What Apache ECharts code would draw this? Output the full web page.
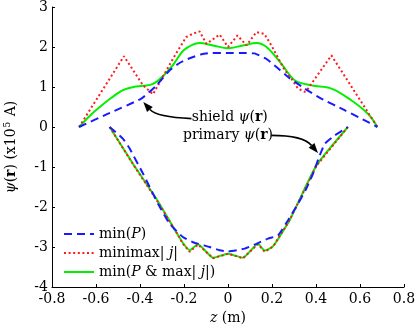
<!DOCTYPE html>
<html lang="en">
<head>
    <meta charset="UTF-8">
    <title>psi(r)</title>
    <script src="https://cdn.jsdelivr.net/npm/echarts@6/dist/echarts.min.js"></script>
    <style>
        body { margin: 0; background: #fff; }
    </style>
</head>
<body>
    <div id="main" style="width: 415px;height:329px;"></div>

    <script>
        // shield psi(r), upper curves: [z (m), psi (x1e5 A)]
        var shieldMinP = [[-0.677, 0], [-0.55, 0.32], [-0.394, 0.71], [-0.325, 1.04], [-0.265, 1.42], [-0.22, 1.6],
            [-0.174, 1.72], [-0.12, 1.82], [-0.08, 1.85], [0, 1.85], [0.08, 1.85], [0.121, 1.84], [0.175, 1.7],
            [0.22, 1.5], [0.273, 1.25], [0.349, 0.96], [0.424, 0.71], [0.53, 0.42], [0.606, 0.21], [0.679, 0]];
        var shieldMinimax = [[-0.677, 0], [-0.473, 1.77], [-0.386, 1.04], [-0.341, 0.82], [-0.25, 1.71], [-0.19, 2.25],
            [-0.16, 2.33], [-0.129, 2.39], [-0.098, 2.08], [-0.038, 2.31], [0, 2.0], [0.043, 2.29], [0.084, 2.04],
            [0.129, 2.37], [0.165, 2.33], [0.197, 2.04], [0.258, 1.42], [0.288, 1.21], [0.318, 0.96], [0.349, 0.88],
            [0.36, 0.93], [0.47, 1.79], [0.679, 0]];
        var shieldBoth = [[-0.677, 0], [-0.63, 0.27], [-0.583, 0.5], [-0.53, 0.73], [-0.477, 0.92], [-0.43, 1.0],
            [-0.386, 1.03], [-0.341, 1.08], [-0.3, 1.25], [-0.25, 1.55], [-0.205, 1.9], [-0.16, 2.06], [-0.129, 2.1],
            [-0.068, 2.04], [0, 1.97], [0.068, 2.04], [0.129, 2.1], [0.175, 2.0], [0.243, 1.58], [0.303, 1.17],
            [0.379, 1.04], [0.47, 0.96], [0.56, 0.67], [0.636, 0.33], [0.679, 0]];

        // primary psi(r), lower curves
        var primaryMinP = [[-0.538, 0], [-0.478, -0.29], [-0.447, -0.54], [-0.386, -1.17], [-0.356, -1.5], [-0.318, -1.92],
            [-0.265, -2.42], [-0.205, -2.75], [-0.159, -2.88], [-0.083, -3.0], [-0.038, -3.08], [0, -3.11],
            [0.076, -3.04], [0.129, -2.92], [0.182, -2.79], [0.227, -2.71], [0.273, -2.33], [0.318, -1.92],
            [0.356, -1.54], [0.386, -1.17], [0.417, -0.71], [0.44, -0.42], [0.485, -0.21], [0.523, -0.08], [0.545, 0]];
        var primaryMinimax = [[-0.538, 0], [-0.432, -0.93], [-0.325, -1.82], [-0.235, -2.63], [-0.205, -2.92],
            [-0.174, -3.12], [-0.136, -2.94], [-0.068, -3.28], [0, -3.17], [0.068, -3.28], [0.136, -2.93],
            [0.167, -3.12], [0.205, -2.99], [0.28, -2.33], [0.402, -0.97], [0.545, 0]];
        var primaryBoth = [[-0.538, 0], [-0.432, -0.92], [-0.325, -1.8], [-0.235, -2.63], [-0.205, -2.9],
            [-0.174, -3.08], [-0.136, -2.93], [-0.068, -3.27], [0, -3.17], [0.068, -3.27], [0.136, -2.92],
            [0.167, -3.09], [0.205, -2.98], [0.28, -2.33], [0.402, -0.96], [0.545, 0]];

        var names = ['min(P)', 'minimax|j|', 'min(P & max|j|)'];
        var legendText = {
            'min(P)': 'min({i|P})',
            'minimax|j|': 'minimax| {i|j}|',
            'min(P & max|j|)': 'min({i|P} & max| {i|j}|)'
        };
        var xTicks = { min: -0.8, max: 0.8, step: 0.2 };
        var yTicks = { min: -4, max: 3, step: 1 };

        var serif = 'DejaVu Serif';
        var colors = ['#1a1aff', '#ff1a1a', '#00f000'];

        var chart1 = echarts.init(document.getElementById('main'));

        function lineSeries(name, data, idx, upper) {
            var styles = [
                { type: [8, 5], width: 2 },
                { type: [2, 2.6], width: 2 },
                { type: 'solid', width: 2 }
            ];
            return {
                name: name,
                type: 'line',
                data: data,
                symbol: 'none',
                smooth: idx == 1 ? false : (idx == 2 && upper ? 0.35 : 0.15),
                z: [4, 3, 2][idx],
                lineStyle: Object.assign({ color: colors[idx] }, styles[idx]),
                itemStyle: { color: colors[idx] }
            };
        }

        var option = {
            animation: false,
            textStyle: { fontFamily: serif },
            grid: { left: 52, right: 11, top: 7, bottom: 42, containLabel: false, outerBoundsMode: 'none' },
            legend: {
                data: names,
                orient: 'vertical',
                left: 58,
                top: 222,
                itemWidth: 30,
                itemHeight: 10,
                itemGap: 5,
                itemStyle: { opacity: 0 },
                formatter: function (n) { return legendText[n]; },
                textStyle: {
                    fontFamily: serif, fontSize: 14, color: '#000',
                    rich: { i: { fontFamily: serif, fontSize: 14, fontStyle: 'italic', color: '#000' } }
                }
            },
            xAxis: {
                type: 'value',
                min: xTicks.min, max: xTicks.max, interval: xTicks.step,
                name: '{i|z} (m)',
                nameLocation: 'middle',
                nameGap: 13,
                nameTextStyle: {
                    fontFamily: serif, fontSize: 14, color: '#000',
                    rich: { i: { fontFamily: serif, fontSize: 14, fontStyle: 'italic', color: '#000' } }
                },
                axisLine: { onZero: false, lineStyle: { color: '#000', width: 1 } },
                axisTick: { inside: true, length: 3, lineStyle: { color: '#000' } },
                axisLabel: {
                    color: '#000', fontFamily: serif, fontSize: 14, margin: 5,
                    formatter: function (v) { return String(Math.round(v * 10) / 10); }
                },
                splitLine: { show: false }
            },
            yAxis: {
                type: 'value',
                min: yTicks.min, max: yTicks.max, interval: yTicks.step,
                name: '{i|ψ}({b|r}) (x10{sup|5} A)',
                nameLocation: 'middle',
                nameGap: 32,
                nameRotate: 90,
                nameTextStyle: {
                    fontFamily: serif, fontSize: 14, color: '#000',
                    rich: {
                        i: { fontFamily: serif, fontSize: 14, fontStyle: 'italic', color: '#000' },
                        b: { fontFamily: serif, fontSize: 14, fontWeight: 'bold', color: '#000' },
                        sup: { fontFamily: serif, fontSize: 9, color: '#000', padding: [0, 1, 8, 1] }
                    }
                },
                axisLine: { onZero: false, lineStyle: { color: '#000', width: 1 } },
                axisTick: { inside: true, length: 3, lineStyle: { color: '#000' } },
                axisLabel: { color: '#000', fontFamily: serif, fontSize: 14, margin: 4 },
                splitLine: { show: false }
            },
            series: [
                lineSeries(names[2], shieldBoth, 2, true),
                lineSeries(names[2], primaryBoth, 2, false),
                lineSeries(names[1], shieldMinimax, 1, true),
                lineSeries(names[1], primaryMinimax, 1, false),
                lineSeries(names[0], shieldMinP, 0, true),
                lineSeries(names[0], primaryMinP, 0, false)
            ]
        };

        chart1.setOption(option);

        // annotations, anchored in data space
        var notes = [
            { text: 'shield {i|ψ}({b|r})', at: [0.008, 0.25], from: [-0.166, 0.21], ctrl: [-0.325, 0.25], to: [-0.385, 0.625] },
            { text: 'primary {i|ψ}({b|r})', at: [0, -0.21], from: [0.197, -0.21], ctrl: [0.341, -0.21], to: [0.409, -0.65] }
        ];

        function px(p) { return chart1.convertToPixel({ gridIndex: 0 }, p); }

        var graphics = [];
        notes.forEach(function (n) {
            var c = px(n.at), a = px(n.from), k = px(n.ctrl), b = px(n.to);
            graphics.push({
                type: 'text',
                style: {
                    text: n.text, x: c[0], y: c[1], align: 'center', verticalAlign: 'middle',
                    fontFamily: serif, fontSize: 14, fill: '#000',
                    rich: {
                        i: { fontFamily: serif, fontSize: 14, fontStyle: 'italic', fill: '#000' },
                        b: { fontFamily: serif, fontSize: 14, fontWeight: 'bold', fill: '#000' }
                    }
                },
                z: 10
            });
            var dx = b[0] - k[0], dy = b[1] - k[1], len = Math.sqrt(dx * dx + dy * dy);
            var ux = dx / len, uy = dy / len, hl = 10, hw = 3.8;
            var bx = b[0] - ux * hl, by = b[1] - uy * hl;
            graphics.push({
                type: 'bezierCurve',
                shape: { x1: a[0], y1: a[1], cpx1: k[0], cpy1: k[1], x2: bx, y2: by },
                style: { stroke: '#000', lineWidth: 1.6, fill: null },
                z: 10
            });
            graphics.push({
                type: 'polygon',
                shape: { points: [[b[0], b[1]], [bx - uy * hw, by + ux * hw], [bx + uy * hw, by - ux * hw]] },
                style: { fill: '#000' },
                z: 10
            });
        });
        chart1.setOption({ graphic: graphics });
    </script>
</body>
</html>
